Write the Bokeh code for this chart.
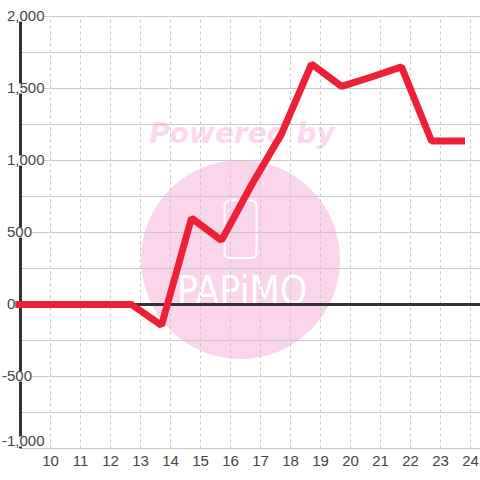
from bokeh.plotting import figure
from bokeh.models import ColumnDataSource, LabelSet, FixedTicker, BoxAnnotation
from bokeh.core.properties import value
from bokeh.embed import file_html
from bokeh.resources import INLINE

hours = [8.7, 9.7, 10.7, 11.7, 12.7, 13.7, 14.7, 15.7, 16.7, 17.7, 18.7, 19.7, 20.7, 21.7, 22.7, 23.7]
values = [0, 0, 0, 0, 0, -145, 600, 445, 830, 1185, 1670, 1515, 1580, 1650, 1135, 1135]
x_ticks = [10, 11, 12, 13, 14, 15, 16, 17, 18, 19, 20, 21, 22, 23, 24]
y_ticks = [-1000, -500, 0, 500, 1000, 1500, 2000]
y_minor = [-750, -250, 250, 750, 1250, 1750]
y_labels = ["-1,000", "-500", "0", "500", "1,000", "1,500", "2,000"]

X0 = 8.3333
X1 = 24.3333
AXIS_X = 9.0
Y0 = -1055.56
Y1 = 2111.11

def dx(px):
    return X0 + px / 30.0

def dy(py):
    return (304.0 - py) / 0.144

p = figure(width=480, height=480, output_backend="svg", toolbar_location=None,
           x_range=(X0, X1), y_range=(Y0, Y1),
           min_border_left=0, min_border_right=0, min_border_top=0, min_border_bottom=24,
           outline_line_color=None, y_axis_type=None)
p.styles = {"position": "absolute", "left": "0px", "top": "0px"}
p.xgrid.visible = False

# watermark
p.circle(x=[dx(240)], y=[dy(259)], radius=99.5, radius_units="screen",
         fill_color="#FBD5EC", line_color=None, level="image")
p.text(x=[dx(241.5)], y=[dy(133)], text=["Powered by"], text_font=value("DejaVu Sans"),
       text_font_style="bold italic", text_font_size="28px", text_color="#FBD8EE",
       text_align="center", text_baseline="alphabetic", level="image")
p.text(x=[dx(241.5)], y=[dy(290)], text=["PAPiMO"], text_font=value("DejaVu Sans Condensed"),
       text_font_size="39px", text_color="#FFFFFF",
       text_align="center", text_baseline="alphabetic", level="image")
p.add_layout(BoxAnnotation(left=dx(224), right=dx(256), top=dy(200), bottom=dy(257.5),
                           fill_alpha=0, line_color="#FFFFFF", line_alpha=1, line_width=2,
                           border_radius=5, level="image"))

# grid
xs = [AXIS_X] * (len(y_ticks) + len(y_minor))
p.segment(x0=xs, x1=[X1] * len(xs), y0=y_ticks + y_minor, y1=y_ticks + y_minor,
          line_color="#C8C8C8", line_width=1, level="underlay")
p.segment(x0=x_ticks, x1=x_ticks, y0=[-1000] * len(x_ticks), y1=[2000] * len(x_ticks),
          line_color="#C8C8C8", line_width=1, line_dash="3 3", level="underlay")

# axis lines
p.line(x=[AXIS_X, AXIS_X], y=[-1000, 2000], line_color="#333333", line_width=3)
p.line(x=[AXIS_X, X1], y=[0, 0], line_color="#333333", line_width=3)

# series
p.line(x=hours, y=values, line_color="#EE2038", line_width=7, line_join="bevel", line_cap="square")

# y labels
src = ColumnDataSource(dict(x=[X0] * len(y_ticks), y=y_ticks, t=y_labels,
                            off=[1.5 if v < 0 else 6.5 for v in y_ticks],
                            yoff=[7 if v == y_ticks[0] else 0 for v in y_ticks]))
p.add_layout(LabelSet(x="x", y="y", text="t", source=src, x_offset="off", y_offset="yoff",
                      text_align="left", text_baseline="middle", text_font=value("Liberation Sans"),
                      text_font_size="15px", text_color="#444444",
                      background_fill_color="#FFFFFF"))

ax = p.xaxis[0]
ax.ticker = FixedTicker(ticks=x_ticks)
ax.axis_line_color = None
ax.major_tick_line_color = None
ax.minor_tick_line_color = None
ax.major_label_text_font = "Liberation Sans"
ax.major_label_text_font_size = "15px"
ax.major_label_text_color = "#444444"
ax.major_label_standoff = -7

open("out.html", "w").write(file_html(p, INLINE))
